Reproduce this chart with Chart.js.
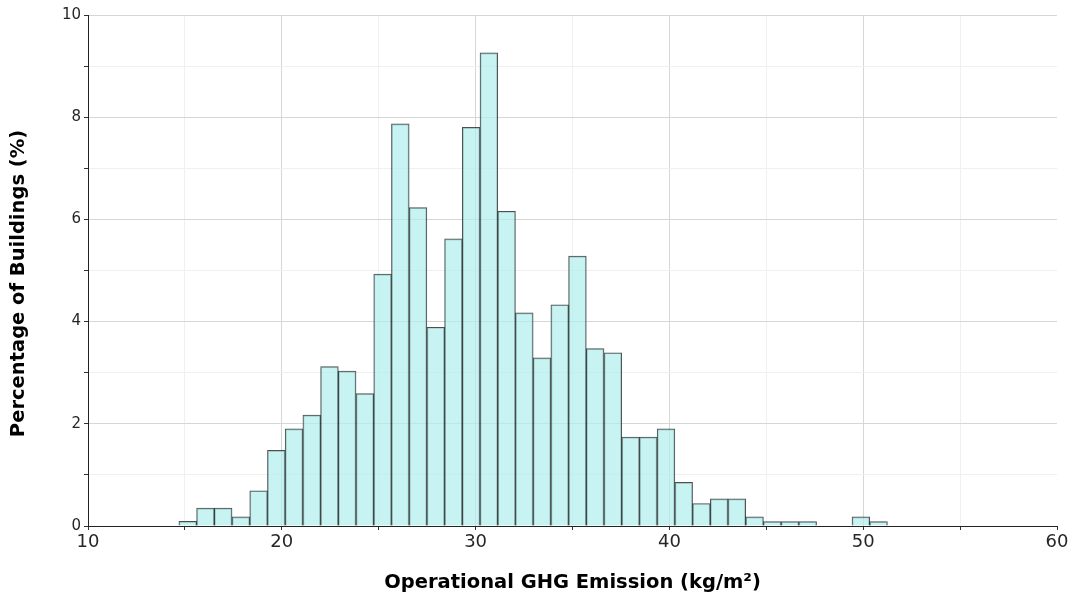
<!DOCTYPE html>
<html>
<head>
<meta charset="utf-8">
<script src="https://cdn.jsdelivr.net/npm/chart.js@4/dist/chart.umd.min.js"></script>
<style>
  html, body { margin: 0; padding: 0; background: #fff; }
  #wrap { width: 1076px; height: 595px; position: relative; }
</style>
</head>
<body>
<div id="wrap"><canvas id="hist"></canvas></div>
<script>
// histogram bins: first edge and width (kg/m2)
const binStart = 14.69;
const binWidth = 0.914;
// share of buildings in each bin (%)
const binPercent = [
    0.09, 0.35, 0.35, 0.18, 0.69, 1.48, 1.90, 2.17, 3.12, 3.03,
    2.59, 4.93, 7.87, 6.23, 3.89, 5.62, 7.80, 9.26, 6.16, 4.17,
    3.29, 4.33, 5.28, 3.47, 3.39, 1.74, 1.74, 1.90, 0.855, 0.44,
    0.53, 0.53, 0.18, 0.085, 0.085, 0.085, 0, 0, 0.18, 0.085
];
const xTicks = [10, 20, 30, 40, 50, 60];
const yTicks = [0, 2, 4, 6, 8, 10];

const points = binPercent.map((v, i) => ({ x: binStart + binWidth * (i + 0.5), y: v }));

const FONT = "'DejaVu Sans', sans-serif";
const Y_TITLE = 'Percentage of Buildings (%)';

// major grid lines a bit darker than the minor ones, none on the right edge
function xGridColor(c) {
    if (!c.tick) return '#f0f0f0';
    if (c.tick.value === 60) return 'rgba(0,0,0,0)';
    return c.tick.value % 10 === 0 ? '#d6d6d6' : '#f0f0f0';
}

// the y title sits a little below the axis middle, so draw it by hand
const yTitlePlugin = {
    id: 'yTitle',
    afterDraw(chart) {
        const c = chart.ctx;
        const area = chart.chartArea;
        c.save();
        c.translate(19, (area.top + area.bottom) / 2 + 13);
        c.rotate(-Math.PI / 2);
        c.font = 'bold 19.5px ' + FONT;
        c.fillStyle = '#000';
        c.textAlign = 'center';
        c.textBaseline = 'middle';
        c.fillText(Y_TITLE, 0, 0);
        c.restore();
    }
};

const ctx = document.getElementById('hist').getContext('2d');
new Chart(ctx, {
    type: 'bar',
    data: {
        datasets: [{
            label: 'Buildings',
            data: points,
            backgroundColor: 'rgba(175, 238, 238, 0.7)',
            borderColor: 'rgba(20, 20, 20, 0.75)',
            borderWidth: 1,
            barPercentage: 1,
            categoryPercentage: 1
        }]
    },
    plugins: [yTitlePlugin],
    options: {
        responsive: true,
        maintainAspectRatio: false,
        animation: false,
        layout: {
            padding: { left: 0, right: 19, top: 15, bottom: 0 }
        },
        plugins: {
            legend: { display: false },
            tooltip: { enabled: false }
        },
        scales: {
            x: {
                type: 'linear',
                min: 10,
                max: 60,
                offset: false,
                afterFit: (scale) => { scale.height = 69; },
                ticks: {
                    stepSize: 5,
                    autoSkip: false,
                    maxRotation: 0,
                    color: '#262626',
                    font: { family: FONT, size: 18 },
                    padding: 2,
                    callback: (v) => xTicks.includes(v) ? String(v) : ''
                },
                grid: {
                    offset: false,
                    color: xGridColor,
                    tickColor: '#333',
                    tickLength: 4,
                    drawTicks: true
                },
                border: { display: true, color: '#222', width: 1 },
                title: {
                    display: true,
                    text: 'Operational GHG Emission (kg/m²)',
                    color: '#000',
                    font: { family: FONT, size: 19.5, weight: 'bold' },
                    padding: { top: 2, bottom: 0 }
                }
            },
            y: {
                min: 0,
                max: 10,
                afterFit: (scale) => { scale.width = 88; },
                ticks: {
                    stepSize: 1,
                    autoSkip: false,
                    color: '#262626',
                    font: { family: FONT, size: 15 },
                    padding: 3,
                    callback: (v) => yTicks.includes(v) ? String(v) : ''
                },
                grid: {
                    color: (c) => c.tick && c.tick.value % 2 === 0 ? '#d6d6d6' : '#f0f0f0',
                    tickColor: '#333',
                    tickLength: 4
                },
                border: { display: true, color: '#222', width: 1 }
            }
        }
    }
});
</script>
</body>
</html>
